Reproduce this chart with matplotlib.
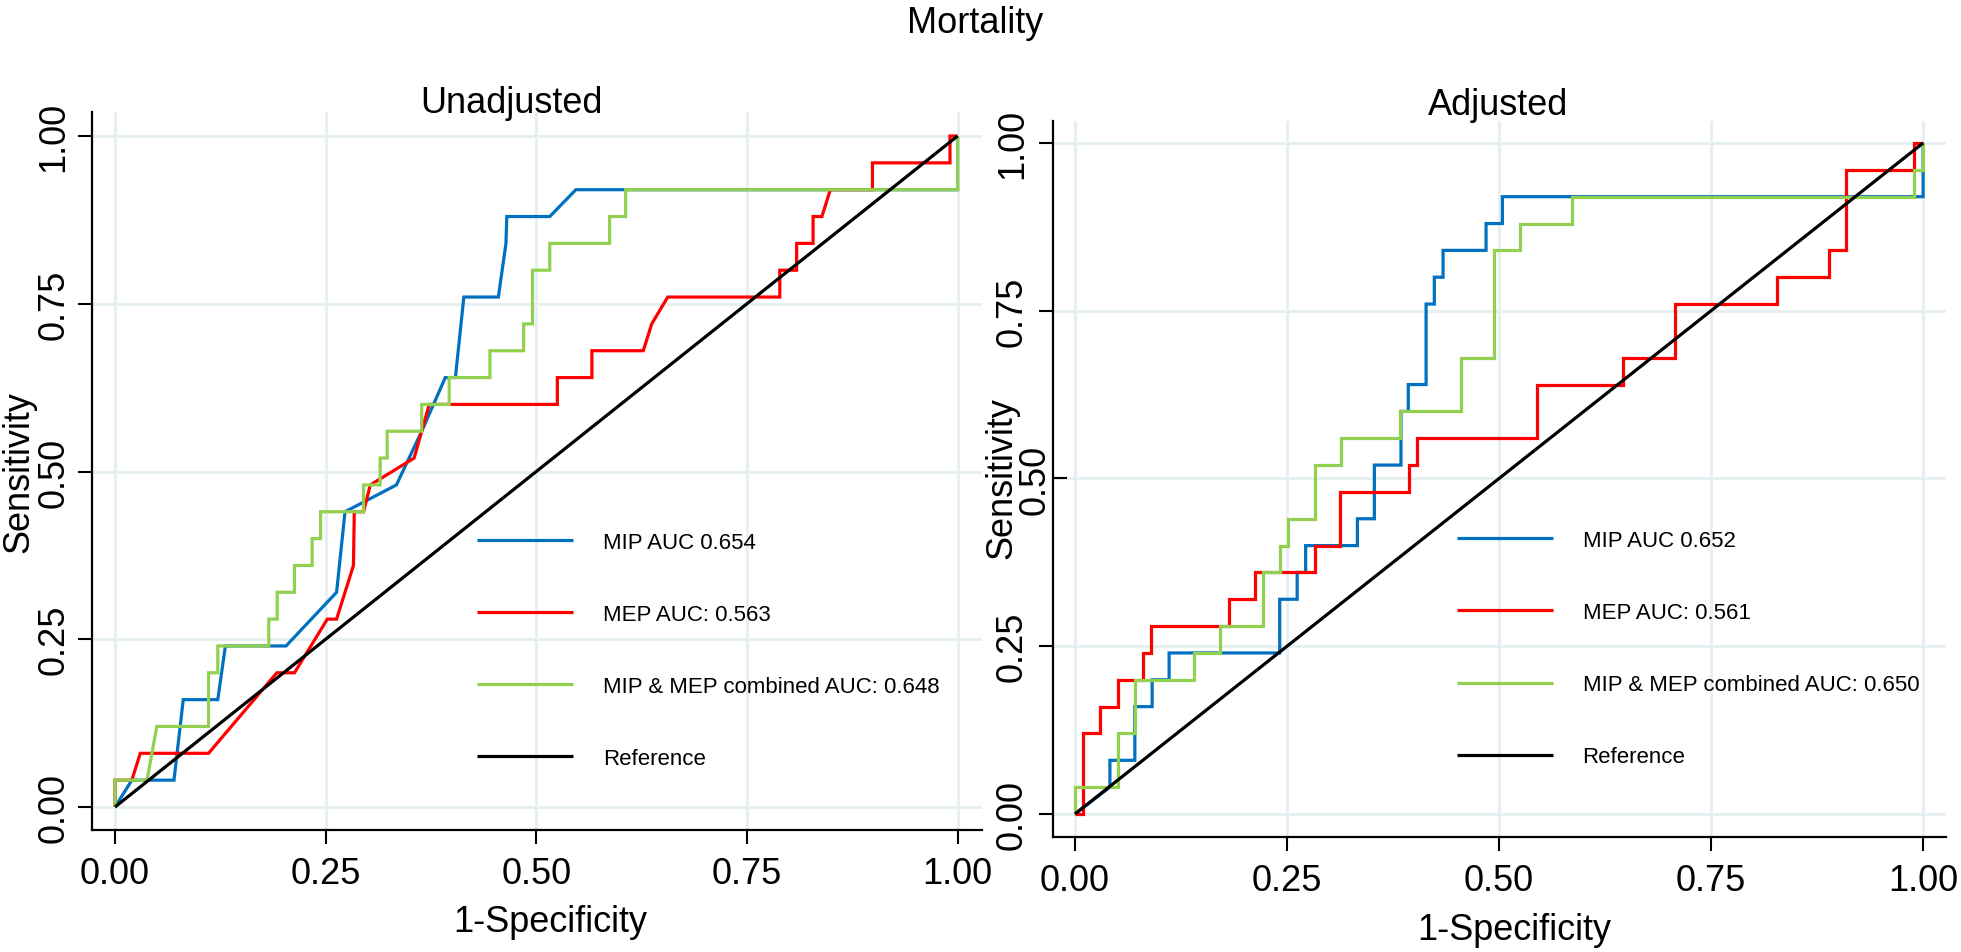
import matplotlib
matplotlib.use("Agg")
import matplotlib.pyplot as plt

plt.rcParams['font.family'] = ['Liberation Sans', 'DejaVu Sans']

# ---------------- data ----------------
# Unadjusted panel
mip_u_x = [0, 0.020, 0.070, 0.081, 0.122, 0.131, 0.203, 0.263, 0.273, 0.334, 0.364, 0.392, 0.404,
           0.414, 0.455, 0.464, 0.465, 0.516, 0.547, 1.0, 1.0]
mip_u_y = [0, 0.04, 0.04, 0.16, 0.16, 0.24, 0.24, 0.32, 0.44, 0.48, 0.56, 0.64, 0.64,
           0.76, 0.76, 0.84, 0.88, 0.88, 0.92, 0.92, 1.0]

mep_u_x = [0, 0, 0.020, 0.030, 0.111, 0.192, 0.213, 0.252, 0.263, 0.283, 0.284, 0.295, 0.303, 0.355,
           0.373, 0.525, 0.525, 0.566, 0.566, 0.627, 0.637, 0.656, 0.789, 0.789, 0.809, 0.809,
           0.8285, 0.8285, 0.839, 0.849, 0.899, 0.899, 0.991, 0.991, 1.0]
mep_u_y = [0, 0.04, 0.04, 0.08, 0.08, 0.20, 0.20, 0.28, 0.28, 0.36, 0.44, 0.44, 0.48, 0.52,
           0.60, 0.60, 0.64, 0.64, 0.68, 0.68, 0.72, 0.76, 0.76, 0.80, 0.80, 0.84,
           0.84, 0.88, 0.88, 0.92, 0.92, 0.96, 0.96, 1.0, 1.0]

comb_u_x = [0, 0, 0.038, 0.0496, 0.111, 0.111, 0.122, 0.122, 0.1825, 0.1825, 0.1925, 0.1925,
            0.213, 0.213, 0.234, 0.234, 0.244, 0.244, 0.295, 0.295, 0.3147, 0.3147, 0.323, 0.323,
            0.364, 0.364, 0.3966, 0.3966, 0.445, 0.445, 0.485, 0.485, 0.4955, 0.4955, 0.516, 0.516,
            0.587, 0.587, 0.606, 0.606, 1.0, 1.0]
comb_u_y = [0, 0.04, 0.04, 0.12, 0.12, 0.20, 0.20, 0.24, 0.24, 0.28, 0.28, 0.32,
            0.32, 0.36, 0.36, 0.40, 0.40, 0.44, 0.44, 0.48, 0.48, 0.52, 0.52, 0.56,
            0.56, 0.60, 0.60, 0.64, 0.64, 0.68, 0.68, 0.72, 0.72, 0.80, 0.80, 0.84,
            0.84, 0.88, 0.88, 0.92, 0.92, 1.0]

# Adjusted panel
mip_a_x = [0, 0.0412, 0.0412, 0.0706, 0.0706, 0.091, 0.091, 0.111, 0.111, 0.2414, 0.2414, 0.262,
           0.262, 0.272, 0.272, 0.333, 0.333, 0.353, 0.353, 0.3844, 0.3844, 0.393, 0.393, 0.414,
           0.414, 0.4237, 0.4237, 0.434, 0.434, 0.4847, 0.4847, 0.504, 0.504, 1.0, 1.0]
mip_a_y = [0, 0.04, 0.08, 0.08, 0.16, 0.16, 0.20, 0.20, 0.24, 0.24, 0.32, 0.32,
           0.36, 0.36, 0.40, 0.40, 0.44, 0.44, 0.52, 0.52, 0.60, 0.60, 0.64, 0.64,
           0.76, 0.76, 0.80, 0.80, 0.84, 0.84, 0.88, 0.88, 0.92, 0.92, 1.0]

mep_a_x = [0, 0.0098, 0.0098, 0.030, 0.030, 0.051, 0.051, 0.080, 0.080, 0.090, 0.090, 0.182,
           0.182, 0.212, 0.212, 0.2826, 0.2826, 0.313, 0.313, 0.394, 0.394, 0.4036, 0.4036,
           0.545, 0.545, 0.646, 0.646, 0.707, 0.707, 0.8275, 0.8275, 0.889, 0.889, 0.909, 0.909,
           0.9898, 0.9898, 1.0]
mep_a_y = [0, 0, 0.12, 0.12, 0.16, 0.16, 0.20, 0.20, 0.24, 0.24, 0.28, 0.28,
           0.32, 0.32, 0.36, 0.36, 0.40, 0.40, 0.48, 0.48, 0.52, 0.52, 0.56,
           0.56, 0.64, 0.64, 0.68, 0.68, 0.76, 0.76, 0.80, 0.80, 0.84, 0.84, 0.96,
           0.96, 1.0, 1.0]

comb_a_x = [0, 0, 0.051, 0.051, 0.0706, 0.0706, 0.1405, 0.1405, 0.1715, 0.1715, 0.2217, 0.2217,
            0.242, 0.242, 0.2516, 0.2516, 0.2826, 0.2826, 0.3133, 0.3133, 0.383, 0.383, 0.455,
            0.455, 0.494, 0.494, 0.5248, 0.5248, 0.5857, 0.5857, 0.9898, 0.9898, 1.0, 1.0]
comb_a_y = [0, 0.04, 0.04, 0.12, 0.12, 0.20, 0.20, 0.24, 0.24, 0.28, 0.28, 0.36,
            0.36, 0.40, 0.40, 0.44, 0.44, 0.52, 0.52, 0.56, 0.56, 0.60, 0.60,
            0.68, 0.68, 0.84, 0.84, 0.88, 0.88, 0.92, 0.92, 0.96, 0.96, 1.0]

ref_x = [0, 1]
ref_y = [0, 1]

labels_u = ["MIP AUC 0.654", "MEP AUC: 0.563", "MIP & MEP combined AUC: 0.648", "Reference"]
labels_a = ["MIP AUC 0.652", "MEP AUC: 0.561", "MIP & MEP combined AUC: 0.650", "Reference"]
tick_vals = [0, 0.25, 0.5, 0.75, 1.0]
tick_labels = ["0.00", "0.25", "0.50", "0.75", "1.00"]

# ---------------- style ----------------
C_BLUE = "#0070C0"
C_RED = "#FF0000"
C_GREEN = "#92D050"
C_BLACK = "#000000"
GRID = "#e6eff1"
LW = 2.3
FS = 26

W, H = 1961, 953
fig = plt.figure(figsize=(W / 100, H / 100), dpi=100)

axL = fig.add_axes([92 / W, (H - 831) / H, 890 / W, 718 / H])
axR = fig.add_axes([1053 / W, (H - 838) / H, 893 / W, 716 / H])


def style(ax, xlim, ylim, ypad):
    ax.set_xlim(*xlim)
    ax.set_ylim(*ylim)
    for s in ("top", "right"):
        ax.spines[s].set_visible(False)
    for s in ("left", "bottom"):
        ax.spines[s].set_linewidth(1.6)
    ax.set_axisbelow(True)
    ax.grid(True, which="both", color=GRID, linewidth=2.2)
    ax.set_xticks(tick_vals, tick_labels)
    ax.tick_params(axis="both", direction="out", length=10, width=1.5, labelsize=FS)
    ax.tick_params(axis="x", pad=9)
    ax.tick_params(axis="y", pad=ypad, labelrotation=90)


def draw(ax, series, labels, anchor):
    handles = []
    for (x, y, c, z), lab in zip(series, labels):
        h, = ax.plot(x, y, color=c, linewidth=LW, zorder=z, label=lab,
                     solid_joinstyle="miter", solid_capstyle="butt")
        handles.append(h)
    ax.legend(handles=handles, loc="upper left", bbox_to_anchor=anchor,
              bbox_transform=ax.transData, frameon=False, fontsize=16,
              handlelength=4.3, handletextpad=1.35, labelspacing=2.3,
              borderpad=0, borderaxespad=0)


# Left: Unadjusted
style(axL, (-0.0273, 1.029), (-0.0343, 1.0358), 5)
axL.set_yticks(tick_vals, tick_labels)
for lbl in axL.get_yticklabels():
    lbl.set_va("center")
draw(axL, [(mip_u_x, mip_u_y, C_BLUE, 3), (mep_u_x, mep_u_y, C_RED, 4),
           (comb_u_x, comb_u_y, C_GREEN, 5), (ref_x, ref_y, C_BLACK, 6)],
     labels_u, (0.43, 0.41))

# Right: Adjusted
style(axR, (-0.0259, 1.027), (-0.0343, 1.0328), 6.5)
axR.set_yticks([0, 0.25, 0.75, 1.0], ["0.00", "0.25", "0.75", "1.00"])
axR.set_yticks([0.5], ["0.50"], minor=True)
axR.tick_params(axis="y", which="minor", direction="in", length=10, width=1.5,
                pad=0, labelsize=FS, labelrotation=90)
for lbl in axR.get_yticklabels() + axR.get_yticklabels(minor=True):
    lbl.set_va("center")
draw(axR, [(mip_a_x, mip_a_y, C_BLUE, 3), (mep_a_x, mep_a_y, C_RED, 4),
           (comb_a_x, comb_a_y, C_GREEN, 5), (ref_x, ref_y, C_BLACK, 6)],
     labels_a, (0.4505, 0.423))

# Axis labels
for ax, xl, yl in ((axL, (0.5146, -0.1407), (-0.082, 0.5)),
                   (axR, (0.517, -0.1425), (-0.057, 0.503))):
    ax.set_xlabel("1-Specificity", fontsize=FS, va="baseline")
    ax.xaxis.set_label_coords(*xl)
    ax.set_ylabel("Sensitivity", fontsize=FS, va="center")
    ax.yaxis.set_label_coords(*yl)

# Titles
fig.text(975 / W, (H - 33) / H, "Mortality", fontsize=FS, ha="center", va="baseline")
fig.text(511 / W, (H - 113) / H, "Unadjusted", fontsize=FS, ha="center", va="baseline")
fig.text(1498 / W, (H - 115) / H, "Adjusted", fontsize=FS, ha="center", va="baseline")

fig.savefig("out.png", dpi=100, facecolor="white")
